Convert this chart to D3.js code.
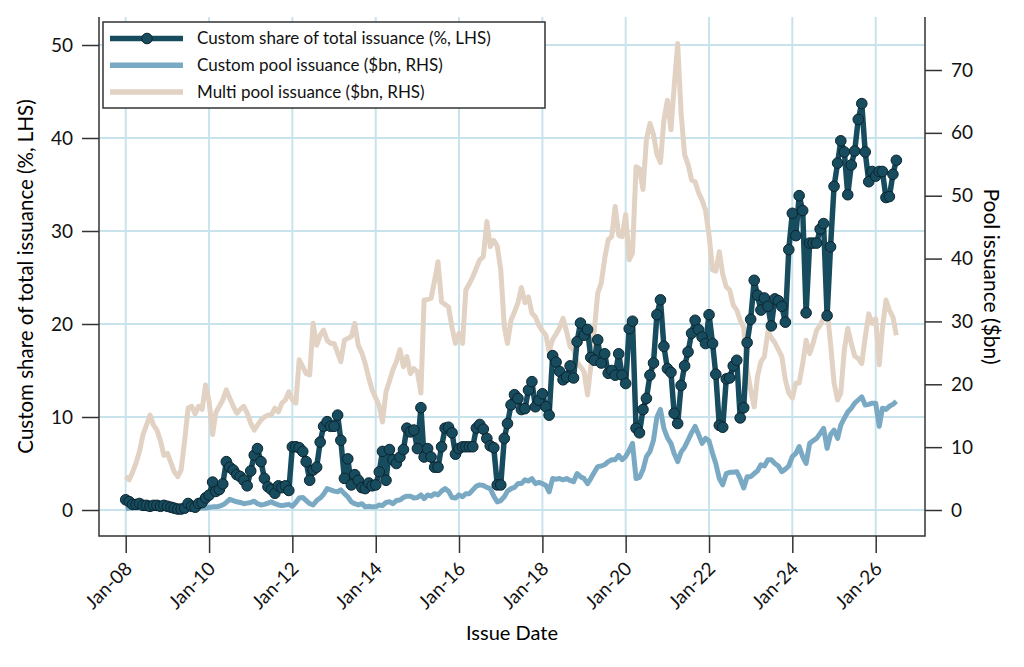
<!DOCTYPE html>
<html>
<head>
<meta charset="utf-8">
<script src="https://cdn.jsdelivr.net/npm/d3@7"></script>
<style>
  body { margin: 0; background: #fff; }
  svg { font-family: Lato, "Open Sans", sans-serif; }
</style>
</head>
<body>
<svg id="chart" width="1024" height="667"></svg>
<script>
// monthly series, first value is Jan-08
const startMonth = new Date(2008, 0, 1);

// custom share of total issuance (%, LHS)
const customShare = [
  1.1, 0.9, 0.6, 0.6, 0.7, 0.5, 0.5, 0.4, 0.5, 0.5, 0.4, 0.5,
  0.4, 0.3, 0.2, 0.1, 0.1, 0.2, 0.7, 0.4, 0.3, 0.7, 0.8, 1.3,
  1.6, 3.0, 2.0, 2.2, 2.8, 5.2, 4.6, 4.3, 3.8, 3.6, 3.2, 2.6,
  4.2, 5.9, 6.6, 5.2, 3.4, 2.5, 2.2, 1.8, 2.6, 2.4, 2.6, 2.1,
  6.8, 6.8, 6.7, 6.3, 5.2, 3.2, 4.3, 4.6, 7.3, 9.0, 9.5, 9.0,
  9.0, 10.2, 7.5, 3.4, 5.5, 2.7, 3.8, 3.2, 2.4, 2.3, 2.9, 2.6,
  2.7, 4.1, 6.3, 3.2, 6.5, 5.4, 5.0, 5.7, 6.5, 8.8, 8.4, 8.6,
  6.6, 11.0, 5.7, 6.6, 5.7, 4.6, 4.6, 6.8, 8.8, 8.9, 8.3, 6.0,
  6.6, 6.8, 6.8, 6.8, 6.8, 8.8, 9.2, 8.7, 7.7, 6.9, 6.7, 2.7,
  2.7, 7.7, 9.3, 11.3, 12.4, 12.0, 10.8, 10.9, 12.9, 13.8, 11.1, 11.8,
  12.5, 11.1, 10.2, 16.6, 15.9, 14.9, 14.0, 14.3, 15.5, 14.2, 18.1, 20.1,
  18.8, 19.4, 16.4, 16.1, 18.3, 15.8, 16.8, 14.7, 15.0, 14.5, 16.8, 14.5,
  13.6, 19.5, 20.3, 8.8, 8.3, 10.8, 12.0, 14.5, 15.8, 21.0, 22.6, 17.6,
  15.2, 14.8, 10.4, 9.3, 13.4, 15.5, 17.0, 19.0, 20.4, 19.4, 18.6, 17.9,
  21.0, 17.9, 14.6, 9.1, 8.9, 14.1, 14.2, 15.5, 16.1, 9.9, 11.0, 18.0,
  20.5, 24.7, 23.1, 21.5, 22.8, 21.9, 19.8, 22.7, 22.5, 21.9, 20.2, 28.0,
  31.9, 29.5, 33.8, 32.2, 21.2, 28.7, 28.7, 28.7, 30.2, 30.8, 20.9, 28.3,
  34.8, 37.3, 39.7, 38.5, 33.9, 37.1, 38.6, 42.0, 43.7, 38.5, 35.3, 36.4,
  35.9, 36.4, 36.4, 33.6, 33.7, 36.1, 37.6
];

// custom pool issuance ($bn, RHS)
const customPool = [
  0.2, 0.3, 0.3, 0.4, 0.3, 0.3, 0.2, 0.3, 0.3, 0.2, 0.2, 0.2,
  0.2, 0.1, 0.1, 0.1, 0.1, 0.1, 0.2, 0.2, 0.2, 0.3, 0.3, 0.3,
  0.4, 0.5, 0.5, 0.6, 0.8, 1.2, 1.7, 1.5, 1.3, 1.2, 1.0, 1.1,
  1.2, 1.4, 1.0, 0.8, 0.9, 1.1, 1.3, 1.0, 0.8, 0.7, 0.8, 0.9,
  0.6, 1.2, 1.9, 2.0, 1.5, 1.0, 0.8, 1.5, 1.9, 2.5, 3.4, 3.2,
  3.0, 2.9, 3.2, 2.6, 2.1, 1.3, 1.0, 0.8, 1.0, 0.5, 0.6, 0.5,
  0.5, 0.8, 0.7, 1.2, 1.3, 1.0, 1.5, 1.6, 2.0, 2.2, 2.2, 1.9,
  2.0, 2.4, 1.8, 2.4, 2.2, 2.6, 2.4, 3.0, 3.4, 3.0, 2.0, 1.9,
  2.4, 2.1, 2.6, 2.6, 3.2, 3.8, 4.0, 3.9, 3.6, 3.4, 2.2, 1.3,
  1.5, 2.1, 3.0, 3.4, 3.6, 4.2, 4.2, 4.8, 4.6, 5.0, 4.2, 4.4,
  4.2, 3.9, 2.9, 5.0, 4.9, 5.0, 4.8, 5.0, 4.7, 4.5, 5.8, 5.3,
  5.0, 4.2, 5.0, 6.0, 6.9, 7.0, 7.2, 7.7, 8.0, 8.0, 8.7, 8.0,
  8.5, 9.5, 10.6, 5.0, 5.2, 6.4, 8.5, 9.3, 11.1, 14.8, 16.0, 13.0,
  11.5, 10.6, 9.0, 7.7, 9.2, 10.0, 11.1, 12.3, 13.3, 12.0, 10.6, 11.4,
  11.0, 9.0, 7.4, 5.0, 4.0, 5.8, 6.0, 6.0, 6.1, 5.0, 3.5, 5.3,
  5.3, 5.8, 6.2, 7.2, 7.0, 8.0, 8.0, 7.4, 7.0, 6.1, 6.5, 7.0,
  8.5, 9.0, 10.1, 8.5, 7.4, 10.6, 11.0, 11.4, 12.2, 13.0, 9.8, 12.0,
  12.7, 11.4, 13.5, 14.6, 15.6, 16.2, 17.0, 17.5, 18.0, 16.7, 16.8, 17.0,
  17.0, 13.3, 16.2, 16.0, 16.5, 16.8, 17.3
];

// multi pool issuance ($bn, RHS)
const multiPool = [
  5.3, 4.8, 6.0, 7.5, 9.3, 12.0, 13.5, 15.1, 13.5, 12.7, 11.0, 8.7,
  9.0, 7.5, 6.1, 5.3, 6.4, 11.1, 16.2, 16.5, 15.3, 16.5, 16.0, 19.9,
  17.3, 12.0, 15.5, 16.5, 17.5, 19.1, 17.8, 16.5, 15.4, 16.0, 16.5, 15.4,
  13.8, 12.7, 13.5, 14.3, 14.8, 15.1, 15.1, 16.2, 15.6, 17.0, 17.5, 18.8,
  17.5, 17.0, 23.9, 22.8, 21.7, 21.5, 29.7, 26.2, 27.8, 28.6, 27.0, 26.5,
  26.5, 25.0, 23.6, 27.0, 27.3, 27.6, 29.7, 26.2, 25.0, 23.3, 21.0, 19.1,
  17.8, 16.5, 14.0, 18.8, 20.5, 22.3, 23.6, 25.5, 22.8, 24.4, 21.7, 22.5,
  22.0, 18.6, 33.4, 33.5, 33.7, 36.5, 39.5, 33.1, 32.7, 32.3, 29.0, 26.5,
  28.1, 26.5, 35.0, 36.0, 37.1, 38.5, 39.8, 40.3, 45.9, 41.9, 42.9, 42.0,
  38.2, 29.2, 26.5, 30.2, 31.5, 33.0, 35.4, 33.0, 33.9, 31.3, 30.7, 29.4,
  28.5, 27.8, 25.2, 27.1, 28.0, 29.0, 30.5, 28.4, 26.0, 25.5, 23.5, 22.8,
  22.0, 18.3, 22.8, 28.6, 34.5, 36.1, 40.0, 43.0, 43.5, 48.3, 43.7, 43.5,
  47.0, 39.8, 40.9, 54.6, 54.3, 51.0, 58.9, 61.5, 59.7, 56.6, 55.3, 62.0,
  65.2, 60.5, 67.3, 74.2, 63.1, 56.5, 55.0, 52.5, 52.2, 50.5, 49.3, 47.7,
  43.7, 38.2, 38.0, 41.1, 37.5, 35.5, 35.0, 32.6, 31.8, 30.2, 29.0, 22.3,
  19.1, 16.4, 21.2, 23.6, 24.4, 28.4, 27.4, 26.6, 25.5, 24.4, 20.7, 18.6,
  17.8, 20.2, 20.2, 23.3, 27.0, 24.9, 26.5, 28.6, 29.4, 30.5, 31.8, 26.5,
  20.2, 17.5, 18.6, 25.5, 28.9, 26.5, 24.5, 24.1, 23.3, 27.5, 31.2, 29.7,
  30.4, 23.1, 28.9, 33.4, 31.8, 30.7, 27.8
];

const leftTicks = [0, 10, 20, 30, 40, 50];
const rightTicks = [0, 10, 20, 30, 40, 50, 60, 70];
const tickYears = d3.range(2008, 2027, 2);

const legendLabels = [
  "Custom share of total issuance (%, LHS)",
  "Custom pool issuance ($bn, RHS)",
  "Multi pool issuance ($bn, RHS)"
];

const colors = {
  share: "#174b5e",
  pool: "#7aaac3",
  multi: "#e2d2c3",
  grid: "#c9e3ec",
  axis: "#333"
};

const dates = customShare.map((d, i) => d3.timeMonth.offset(startMonth, i));

const svg = d3.select("#chart");
const plot = { left: 99, right: 925, top: 17, bottom: 536 };

const x = d3.scaleTime()
  .domain([new Date(2008, 0, 1), new Date(2026, 0, 1)])
  .range([125.7, 875.7]);
const yL = d3.scaleLinear().domain([0, 50]).range([510, 45]);
const yR = d3.scaleLinear().domain([0, 70]).range([510, 70]);

// grid
const grid = svg.append("g");
grid.selectAll(".vg")
  .data(tickYears)
  .enter().append("line")
  .attr("x1", d => x(new Date(d, 0, 1)))
  .attr("x2", d => x(new Date(d, 0, 1)))
  .attr("y1", plot.top).attr("y2", plot.bottom)
  .attr("stroke", colors.grid).attr("stroke-width", 2);
grid.selectAll(".hg")
  .data(leftTicks)
  .enter().append("line")
  .attr("x1", plot.left).attr("x2", plot.right)
  .attr("y1", d => yL(d)).attr("y2", d => yL(d))
  .attr("stroke", colors.grid).attr("stroke-width", 2);

// lines
const lineR = (arr) => d3.line()
  .x((d, i) => x(dates[i]))
  .y(d => yR(d))(arr);

svg.append("path")
  .attr("d", lineR(multiPool))
  .attr("fill", "none")
  .attr("stroke", colors.multi)
  .attr("stroke-width", 5)
  .attr("stroke-linejoin", "round");

svg.append("path")
  .attr("d", lineR(customPool))
  .attr("fill", "none")
  .attr("stroke", colors.pool)
  .attr("stroke-width", 5)
  .attr("stroke-linejoin", "round");

const shareLine = d3.line()
  .x((d, i) => x(dates[i]))
  .y(d => yL(d));

svg.append("path")
  .attr("d", shareLine(customShare))
  .attr("fill", "none")
  .attr("stroke", colors.share)
  .attr("stroke-width", 5.5)
  .attr("stroke-linejoin", "round");

svg.append("g").selectAll("circle")
  .data(customShare)
  .enter().append("circle")
  .attr("cx", (d, i) => x(dates[i]))
  .attr("cy", d => yL(d))
  .attr("r", 5.3)
  .attr("fill", colors.share)
  .attr("stroke", "#0b2530")
  .attr("stroke-width", 1);

// axes
const axisL = svg.append("g")
  .attr("transform", `translate(${plot.left},0)`)
  .call(d3.axisLeft(yL).tickValues(leftTicks).tickSize(17).tickPadding(9));
const axisR = svg.append("g")
  .attr("transform", `translate(${plot.right},0)`)
  .call(d3.axisRight(yR).tickValues(rightTicks).tickSize(17).tickPadding(9));
const axisB = svg.append("g")
  .attr("transform", `translate(0,${plot.bottom})`)
  .call(d3.axisBottom(x)
    .tickValues(tickYears.map(d => new Date(d, 0, 1)))
    .tickFormat(d3.timeFormat("Jan-%y"))
    .tickSize(17));

[axisL, axisR, axisB].forEach(g => {
  g.select(".domain").remove();
  g.selectAll("line").attr("stroke", colors.axis).attr("stroke-width", 1.5);
  g.selectAll("text").attr("fill", "#111").style("font-size", "19px")
    .style("font-family", "Lato, sans-serif");
});

axisB.selectAll("text")
  .attr("text-anchor", "end")
  .attr("dy", null)
  .attr("transform", "translate(7,34) rotate(-45)")
  .attr("y", 0).attr("x", 0)
  .style("font-size", "19px");

// axis frame
svg.append("path")
  .attr("d", `M${plot.left},${plot.top}V${plot.bottom}H${plot.right}V${plot.top}`)
  .attr("fill", "none")
  .attr("stroke", colors.axis)
  .attr("stroke-width", 1.5);

// titles
svg.append("text")
  .attr("transform", `translate(33,${(plot.top + plot.bottom) / 2}) rotate(-90)`)
  .attr("text-anchor", "middle")
  .style("font-size", "20.5px")
  .text("Custom share of total issuance (%, LHS)");
svg.append("text")
  .attr("transform", `translate(984,${(plot.top + plot.bottom) / 2}) rotate(90)`)
  .attr("text-anchor", "middle")
  .style("font-size", "21px")
  .text("Pool issuance ($bn)");
svg.append("text")
  .attr("x", (plot.left + plot.right) / 2)
  .attr("y", 640)
  .attr("text-anchor", "middle")
  .style("font-size", "20px")
  .text("Issue Date");

// legend
const legend = svg.append("g");
legend.append("rect")
  .attr("x", 103).attr("y", 22)
  .attr("width", 442).attr("height", 86)
  .attr("fill", "#fff")
  .attr("stroke", "#333").attr("stroke-width", 1.5);

const legendColors = [colors.share, colors.pool, colors.multi];
const rows = legend.selectAll(".row")
  .data(legendLabels)
  .enter().append("g")
  .attr("transform", (d, i) => `translate(0,${38.5 + i * 26.7})`);
rows.append("line")
  .attr("x1", 110).attr("x2", 183)
  .attr("stroke", (d, i) => legendColors[i])
  .attr("stroke-width", 5.5);
rows.filter((d, i) => i === 0).append("circle")
  .attr("cx", 147).attr("r", 5.3)
  .attr("fill", colors.share)
  .attr("stroke", "#0b2530");
rows.append("text")
  .attr("x", 197)
  .attr("dy", "0.35em")
  .style("font-size", "17px")
  .attr("fill", "#111")
  .text(d => d);
</script>
</body>
</html>
